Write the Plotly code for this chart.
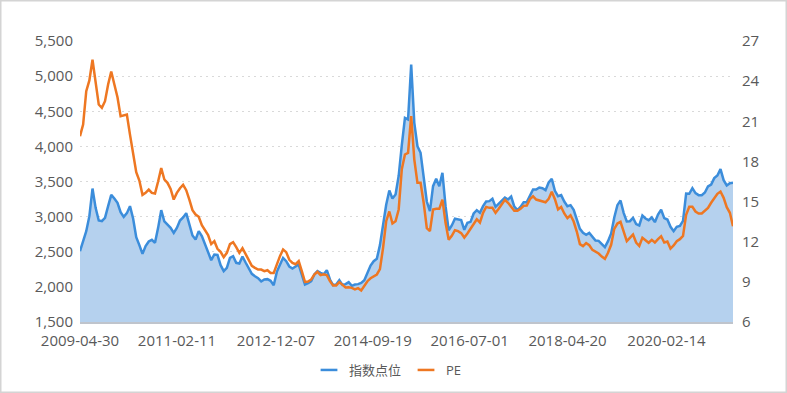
import pandas as pd
import plotly.graph_objects as go

# ---- data (sampled every 21 days from 2009-04-30) ----
start_date = "2009-04-30"
step = "21D"

index_vals = [
    2508, 2636, 2793, 3007, 3400, 3125, 2945, 2935, 2983, 3149,
    3310, 3258, 3196, 3063, 2997, 3049, 3149, 2973, 2708, 2594,
    2470, 2580, 2646, 2670, 2627, 2840, 3092, 2931, 2888, 2840,
    2769, 2840, 2945, 2988, 3049, 2888, 2731, 2674, 2793, 2722,
    2598, 2504, 2380, 2461, 2456, 2309, 2224, 2271, 2413, 2437,
    2342, 2333, 2432, 2347, 2257, 2186, 2152, 2124, 2077, 2105,
    2110, 2086, 2024, 2214, 2314, 2413, 2366, 2290, 2262, 2290,
    2318, 2176, 2034, 2053, 2081, 2176, 2224, 2200, 2181, 2238,
    2105, 2024, 2034, 2096, 2029, 2039, 2067, 2015, 2034, 2039,
    2057, 2096, 2190, 2304, 2366, 2399, 2594, 2907, 3168, 3372,
    3258, 3315, 3581, 4017, 4406, 4383, 5166, 4335, 4003, 3908,
    3552, 3215, 3078, 3434, 3538, 3434, 3623, 3149, 2803, 2874,
    2969, 2959, 2950, 2812, 2912, 2926, 3045, 3092, 3054, 3149,
    3215, 3220, 3253, 3139, 3182, 3225, 3272, 3244, 3286, 3144,
    3092, 3139, 3206, 3206, 3296, 3386, 3386, 3415, 3405, 3377,
    3486, 3538, 3367, 3291, 3306, 3215, 3149, 3163, 3097, 2959,
    2826, 2769, 2741, 2769, 2722, 2660, 2655, 2603, 2565, 2651,
    2760, 2988, 3163, 3230, 3054, 2931, 2935, 2983, 2893, 2874,
    3016, 2973, 2950, 2988, 2921, 3030, 3097, 2978, 2959, 2855,
    2793, 2855, 2869, 2940, 3329, 3325, 3405, 3334, 3306, 3306,
    3343, 3429, 3457, 3548, 3586, 3676, 3519, 3443, 3476, 3481,
]

pe_vals = [
    19.89, 20.76, 23.25, 24.05, 25.6, 23.75, 22.25, 22.0, 22.5, 23.75,
    24.72, 23.75, 22.8, 21.38, 21.43, 21.5, 20.0, 18.47, 17.2, 16.57,
    15.5, 15.65, 15.9, 15.65, 15.6, 16.5, 17.5, 16.65, 16.4, 15.95,
    15.15, 15.65, 16.0, 16.25, 15.85, 15.15, 14.36, 14.03, 13.86, 13.24,
    12.91, 12.49, 11.82, 12.04, 11.47, 11.24, 10.84, 11.17, 11.82, 11.97,
    11.59, 11.17, 11.52, 11.07, 10.62, 10.2, 10.05, 9.92, 9.92, 9.8,
    9.87, 9.67, 9.67, 10.37, 10.92, 11.42, 11.22, 10.65, 10.42, 10.32,
    10.55, 9.8, 9.0, 9.03, 9.18, 9.55, 9.75, 9.5, 9.57, 9.5,
    9.05, 8.73, 8.73, 8.98, 8.75, 8.58, 8.6, 8.55, 8.43, 8.53,
    8.35, 8.68, 9.05, 9.27, 9.42, 9.55, 9.95, 11.54, 13.53, 14.26,
    13.36, 13.53, 14.41, 17.42, 18.52, 18.64, 21.38, 18.14, 16.4, 16.4,
    14.91, 13.01, 12.79, 14.41, 14.46, 14.46, 15.15, 13.41, 12.14, 12.44,
    12.86, 12.79, 12.64, 12.31, 12.61, 12.99, 13.34, 13.68, 13.43, 14.16,
    14.6, 14.53, 14.53, 14.16, 14.46, 14.8, 15.13, 14.91, 14.56, 14.31,
    14.31, 14.46, 14.68, 14.7, 15.18, 15.4, 15.15, 15.08, 15.0, 14.95,
    15.2, 15.73, 15.18, 14.41, 14.6, 14.11, 13.76, 13.98, 13.51, 12.76,
    11.82, 11.67, 11.89, 11.74, 11.39, 11.24, 11.12, 10.89, 10.72, 11.17,
    11.77, 12.96, 13.36, 13.48, 12.84, 12.04, 12.29, 12.54, 11.94, 11.69,
    12.29, 12.09, 11.92, 12.14, 11.94, 12.19, 12.41, 11.94, 12.02, 11.49,
    11.72, 12.04, 12.19, 12.44, 14.01, 14.61, 14.61, 14.26, 14.11, 14.11,
    14.31, 14.53, 14.91, 15.25, 15.58, 15.75, 15.28, 14.58, 14.16, 13.16,
]

x_ticks = ["2009-04-30", "2011-02-11", "2012-12-07", "2014-09-19",
           "2016-07-01", "2018-04-20", "2020-02-14"]
left_ticks = [1500, 2000, 2500, 3000, 3500, 4000, 4500, 5000, 5500]
right_ticks = [6, 9, 12, 15, 18, 21, 24, 27]

series_names = ["指数点位", "PE"]

dates = pd.date_range(start_date, periods=len(index_vals), freq=step)

BLUE = "#3b8ddb"
FILL = "#b5d1ee"
ORANGE = "#ee7722"
TXT = "#595959"

fig = go.Figure()
fig.add_trace(go.Scatter(
    x=dates, y=index_vals, name=series_names[0], mode="lines",
    line=dict(color=BLUE, width=2.5), fill="tozeroy", fillcolor=FILL,
    showlegend=False, yaxis="y"))
fig.add_trace(go.Scatter(
    x=dates, y=pe_vals, name=series_names[1], mode="lines",
    line=dict(color=ORANGE, width=2.5), showlegend=False, yaxis="y2"))

# legend entries (short dash icons like the original)
for nm, col, ax in [(series_names[0], BLUE, "y"), (series_names[1], ORANGE, "y2")]:
    fig.add_trace(go.Scatter(
        x=[None], y=[None], name=nm, mode="markers", yaxis=ax,
        marker=dict(symbol="line-ew-open", size=12, color=col,
                    line=dict(color=col, width=2.5)),
        showlegend=True))

W, H = 787, 393
ml, mr, mt, mb = 80, 54, 41, 71
pw, ph = W - ml - mr, H - mt - mb

fig.update_layout(
    width=W, height=H,
    margin=dict(l=ml, r=mr, t=mt, b=mb, autoexpand=False),
    paper_bgcolor="white", plot_bgcolor="white",
    font=dict(family="Open Sans, Noto Sans CJK SC, sans-serif", size=14, color=TXT),
    xaxis=dict(
        type="date", range=[dates[0], dates[-1]], automargin=False,
        tickmode="array", tickvals=x_ticks, ticktext=x_ticks,
        showgrid=False, zeroline=False, ticks="",
        showline=True, linecolor="#bfc4cc", linewidth=2,
        tickfont=dict(size=15, color=TXT), ticklabelstandoff=4,
    ),
    yaxis=dict(
        range=[1500, 5500], tickmode="array", tickvals=left_ticks,
        automargin=False,
        tickformat=",", showgrid=True, gridcolor="#d9d9d9", griddash="2px,4px",
        gridwidth=1, zeroline=False, ticks="", showline=False,
        tickfont=dict(size=15, color=TXT), ticklabelstandoff=6,
    ),
    yaxis2=dict(
        range=[6, 27], tickmode="array", tickvals=right_ticks, automargin=False,
        overlaying="y", side="right", showgrid=False, zeroline=False,
        ticks="", showline=False, tickfont=dict(size=15, color=TXT),
        ticklabelstandoff=8,
    ),
    legend=dict(
        orientation="h", x=(388 - ml) / pw, xanchor="center",
        y=-(370 - (mt + ph)) / ph, yanchor="middle",
        font=dict(size=13, color=TXT), bgcolor="rgba(0,0,0,0)",
        itemwidth=30,
    ),
    shapes=[dict(
        type="rect", xref="paper", yref="paper",
        x0=-ml / pw, x1=1 + mr / pw, y0=-mb / ph, y1=1 + mt / ph,
        line=dict(color="#d4d4d4", width=3), fillcolor="rgba(0,0,0,0)",
        layer="above",
    )],
)

fig.write_html("out.html", post_script="document.body.style.margin='0';",
               config={"displayModeBar": False})
